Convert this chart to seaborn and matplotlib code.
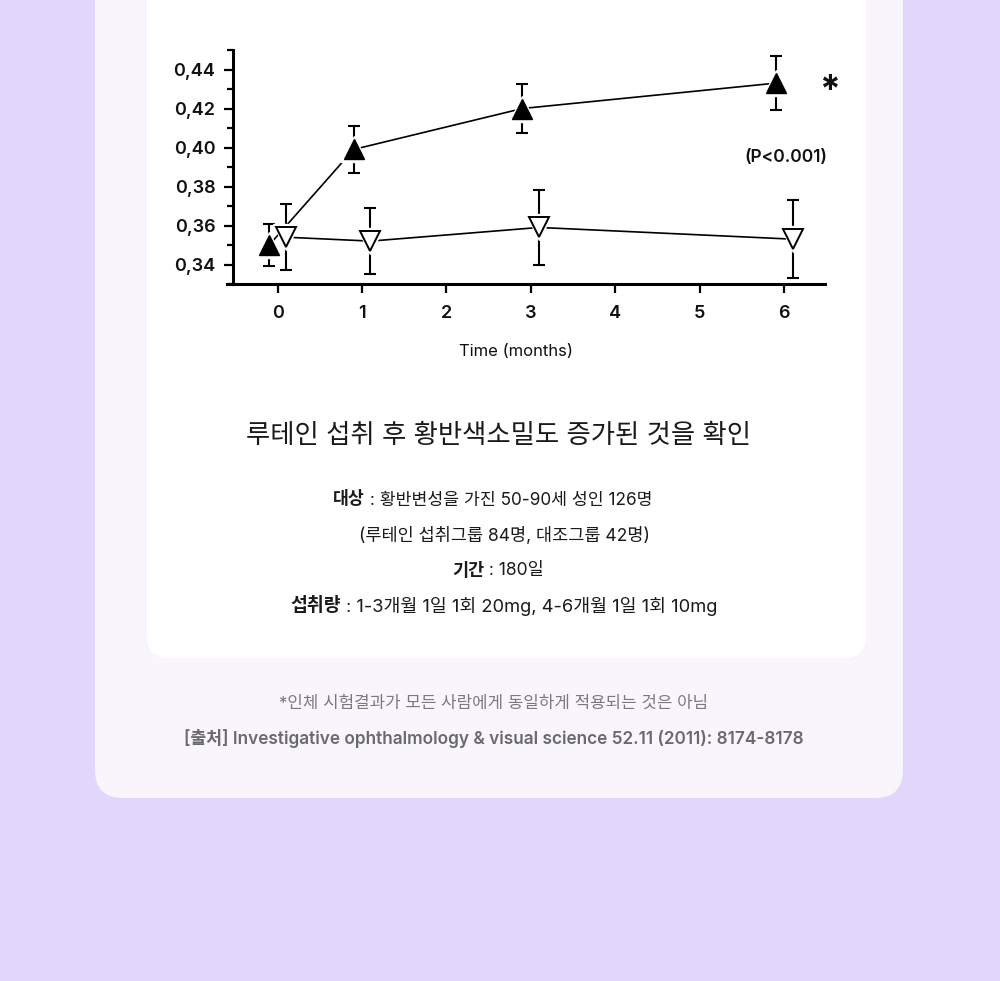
import matplotlib
matplotlib.use("Agg")
import matplotlib.pyplot as plt
import seaborn as sns
import numpy as np
from matplotlib.patches import FancyBboxPatch
from matplotlib.ticker import MultipleLocator

# data
months = np.array([0, 1, 3, 6])
lutein_mean = [0.350, 0.399, 0.420, 0.433]
lutein_err = [0.011, 0.012, 0.0127, 0.014]
control_mean = [0.354, 0.352, 0.359, 0.353]
control_err = [0.017, 0.0168, 0.019, 0.020]
x_ticks = [0, 1, 2, 3, 4, 5, 6]
y_ticks = [0.34, 0.36, 0.38, 0.40, 0.42, 0.44]
y_tick_labels = ["0,34", "0,36", "0,38", "0,40", "0,42", "0,44"]

title = "루테인 섭취 후 황반색소밀도 증가된 것을 확인"
details = [
    [("대상", "bold"), (" : 황반변성을 가진 50-90세 성인 126명", "normal")],
    [("(루테인 섭취그룹 84명, 대조그룹 42명)", "normal")],
    [("기간", "bold"), (" : 180일", "normal")],
    [("섭취량", "bold"), (" : 1-3개월 1일 1회 20mg, 4-6개월 1일 1회 10mg", "normal")],
]
footnote = "*인체 시험결과가 모든 사람에게 동일하게 적용되는 것은 아님"
source = "[출처] Investigative ophthalmology & visual science 52.11 (2011): 8174-8178"

sns.set_style("ticks")
plt.rcParams["font.family"] = ["Inter", "Noto Sans CJK KR", "DejaVu Sans"]

W, H = 1000, 981
fig = plt.figure(figsize=(W / 100, H / 100), dpi=100)
fig.patch.set_facecolor("#e3d6fb")

# background panels in pixel coordinates
bg = fig.add_axes([0, 0, 1, 1], zorder=0)
bg.set_xlim(0, W)
bg.set_ylim(H, 0)
bg.axis("off")
bg.add_patch(FancyBboxPatch((95, -60), 808, 858, boxstyle="round,pad=0,rounding_size=28",
                            fc="#f8f5fd", ec="none"))
bg.add_patch(FancyBboxPatch((147, -60), 719, 718, boxstyle="round,pad=0,rounding_size=22",
                            fc="white", ec="none"))

# chart
ax = fig.add_axes([0.227, 1 - 284 / H, 0.598, (284 - 50) / H], zorder=2)
ax.set_facecolor("none")
dodge = 0.1
x_l = months - dodge
x_c = months + dodge

sns.lineplot(x=x_l, y=lutein_mean, ax=ax, color="black", lw=1.2, zorder=2)
sns.lineplot(x=x_c, y=control_mean, ax=ax, color="black", lw=1.2, zorder=2)
ax.errorbar(x_l, lutein_mean, yerr=lutein_err, fmt="none", ecolor="black",
            elinewidth=1.5, capsize=4, capthick=1.5, zorder=2)
ax.errorbar(x_c, control_mean, yerr=control_err, fmt="none", ecolor="black",
            elinewidth=1.5, capsize=4, capthick=1.5, zorder=2)

ax.plot(x_l, lutein_mean, ls="none", marker="^", ms=19, color="white", zorder=3)
ax.plot(x_l, lutein_mean, ls="none", marker="^", ms=15, color="black", zorder=4)
ax.plot(x_c, control_mean, ls="none", marker="v", ms=19, color="white", zorder=5)
ax.plot(x_c, control_mean, ls="none", marker="v", ms=15, mfc="white", mec="black",
        mew=1.4, zorder=6)

ax.set_xlim(-0.6, 6.485)
ax.set_ylim(0.33, 0.45)
ax.set_xticks(x_ticks)
ax.set_yticks(y_ticks)
ax.set_yticklabels(y_tick_labels)
ax.yaxis.set_minor_locator(MultipleLocator(0.01))
ax.spines["right"].set_visible(False)
ax.spines["top"].set_visible(False)
ax.spines["left"].set_position(("data", -0.533))
for s in ["left", "bottom"]:
    ax.spines[s].set_linewidth(2.2)
    ax.spines[s].set_color("black")
ax.tick_params(axis="both", which="major", length=6.5, width=1.6, color="black",
               labelsize=13, labelcolor="#111111")
ax.tick_params(axis="y", which="major", pad=6)
ax.tick_params(axis="x", which="major", pad=8.5)
ax.tick_params(axis="y", which="minor", length=4.3, width=1.6, color="black")
for lab in ax.get_xticklabels() + ax.get_yticklabels():
    lab.set_fontweight("semibold")
ax.set_xlabel("")
ax.set_ylabel("")

# annotations in pixel coords
bg.text(516, 352, "Time (months)", ha="center", va="center", fontsize=12, color="#111111")
bg.text(830, 92, "*", ha="center", va="center", fontsize=27, fontweight="bold", color="#111111")
bg.text(786, 157, "(P<0.001)", ha="center", va="center", fontsize=12.5, fontweight="semibold",
        color="#111111")

bg.text(498, 436, title, ha="center", va="center", fontsize=19, color="#1a1a1a")

renderer = fig.canvas.get_renderer()


def mixed_line(y, parts, cx, size):
    texts = [bg.text(0, y, s, ha="left", va="center", fontsize=size, fontweight=w,
                     color="#1a1a1a") for s, w in parts]
    widths = [t.get_window_extent(renderer).width for t in texts]
    x = cx - sum(widths) / 2
    for t, wd in zip(texts, widths):
        t.set_x(x)
        x += wd


for y, parts, cx, size in zip([500, 536, 571, 606], details, [493, 504, 498, 504],
                              [12.4, 12.6, 12.6, 13.2]):
    mixed_line(y, parts, cx, size)

bg.text(494, 703, footnote, ha="center", va="center", fontsize=12.1, color="#7a7a7a")
bg.text(494, 739, source, ha="center", va="center", fontsize=12.4, fontweight="semibold",
        color="#6a6a6a")

fig.savefig("out.png", dpi=100, facecolor=fig.get_facecolor())
